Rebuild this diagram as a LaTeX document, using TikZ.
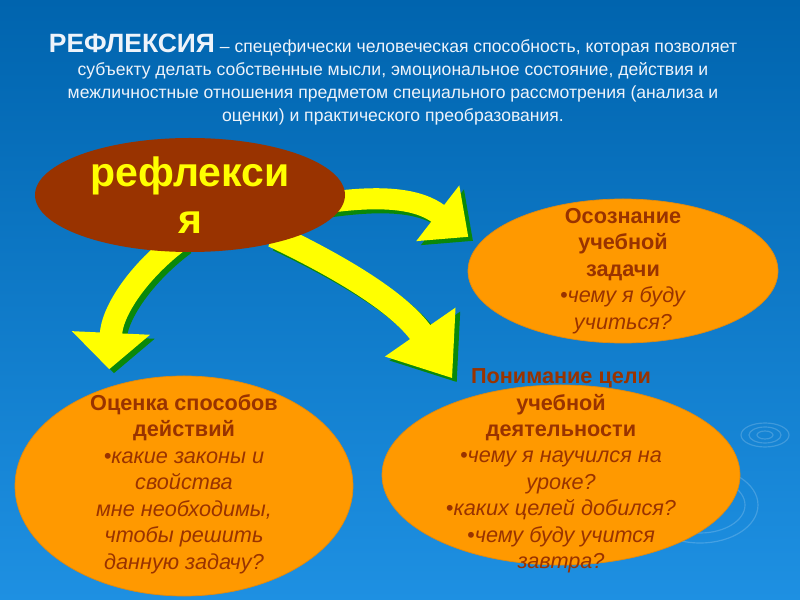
\documentclass[tikz,border=0pt]{standalone}
\usepackage{fontspec}
\setmainfont{Liberation Sans}
\usepackage{tikz}
\usetikzlibrary{shapes.geometric, arrows.meta, calc, backgrounds}
\definecolor{SlideTop}{HTML}{0064AE}
\definecolor{SlideBottom}{HTML}{1E90E2}
\definecolor{Rust}{HTML}{993300}
\definecolor{Amber}{HTML}{FF9900}
\definecolor{AmberEdge}{HTML}{E08A10}
\definecolor{Lemon}{HTML}{FFFF00}
\definecolor{Leaf}{HTML}{0A880A}
\definecolor{Frost}{HTML}{EEF3FA}
\pgfdeclarelayer{arrows}
\pgfsetlayers{background,arrows,main}
\tikzset{
  bubble/.style={ellipse, fill=Amber, draw=AmberEdge, line width=0.6pt, inner sep=0pt},
  bubbletext/.style={text=Rust, align=center, inner sep=0pt,
                     font=\fontsize{18.5pt}{22.6pt}\selectfont},
  ripple/.style={draw=white, opacity=0.18, line width=1pt},
}
% yellow block arrow with green shadow: body, head width, head length, path
\newcommand{\blockarrow}[4]{%
  \draw[Leaf, line width=#1, -{Triangle[width=#2, length=#3]},
        transform canvas={xshift=0.14cm, yshift=-0.12cm}] #4;
  \draw[Lemon, line width=#1, -{Triangle[width=#2, length=#3]}] #4;
}

\begin{document}
\begin{tikzpicture}[x=0.03cm, y=-0.03cm]
    % Slide background
    \begin{pgfonlayer}{background}
    \shade[top color=SlideTop, bottom color=SlideBottom] (0,0) rectangle (800,600);
    \draw[ripple] (765,435) ellipse (8 and 4);
    \draw[ripple] (765,435) ellipse (16 and 8);
    \draw[ripple] (765,435) ellipse (24 and 12);
    \draw[ripple] (700,505) ellipse (45 and 28);
    \draw[ripple] (700,505) ellipse (58 and 38);
    \end{pgfonlayer}
    \useasboundingbox (0,0) rectangle (800,600);

    % Definition on top
    \node[text=Frost, align=center, inner sep=0pt,
          font=\fontsize{15pt}{19.6pt}\selectfont] (defn) at (393,80) {%
        {\fontsize{22.6pt}{19.6pt}\selectfont\bfseries РЕФЛЕКСИЯ} – спецефически человеческая способность, которая позволяет\\
        субъекту делать собственные мысли, эмоциональное состояние, действия и\\
        межличностные отношения предметом специального рассмотрения (анализа и\\
        оценки) и практического преобразования.};

    % Central ellipse and the three bubbles
    \node[ellipse, fill=Rust, inner sep=0pt, minimum width=9.3cm, minimum height=3.42cm] (refl) at (190,195) {};
    \node[bubble, minimum width=9.3cm, minimum height=4.32cm] (aware) at (623,271) {};
    \node[bubble, minimum width=10.14cm, minimum height=6.6cm] (method) at (184,486) {};
    \node[bubble, minimum width=10.74cm, minimum height=5.4cm] (goal) at (561,475) {};

    % Arrows
    \begin{pgfonlayer}{arrows}
    \blockarrow{18pt}{58pt}{33pt}{($(refl.-3)+(-20,0)$) .. controls (380,195) and (418,198) .. ($(aware.165)+(-20,2)$)}
    \blockarrow{21pt}{70pt}{48pt}{($(refl.-30)+(0,-8)$) .. controls (330,262) and (398,300) .. ($(goal.141)+(-14,-20)$)}
    \blockarrow{19pt}{65pt}{31pt}{($(refl.-100)+(0,-12)$) .. controls (140,270) and (112,310) .. ($(method.121)+(-13,-14)$)}
    \end{pgfonlayer}

    % Texts
    \node[text=Lemon, align=center, inner sep=0pt,
          font=\fontsize{35pt}{40pt}\selectfont\bfseries] (refltext) at (refl) {рефлекси\\я};
    \node[bubbletext] (awaretext) at (aware) {\textbf{Осознание}\\\textbf{учебной}\\\textbf{задачи}\\
        \textit{•чему я буду}\\\textit{учиться?}};
    \node[bubbletext] (methodtext) at ($(method)+(0,-2)$) {\textbf{Оценка способов}\\\textbf{действий}\\
        \textit{•какие законы и}\\\textit{свойства}\\\textit{мне необходимы,}\\\textit{чтобы решить}\\\textit{данную задачу?}};
    \node[bubbletext] (goaltext) at ($(goal)+(0,-4)$) {\textbf{Понимание цели}\\\textbf{учебной}\\\textbf{деятельности}\\
        \textit{•чему я научился на}\\\textit{уроке?}\\\textit{•каких целей добился?}\\\textit{•чему буду учится}\\\textit{завтра?}};
\end{tikzpicture}
\end{document}
